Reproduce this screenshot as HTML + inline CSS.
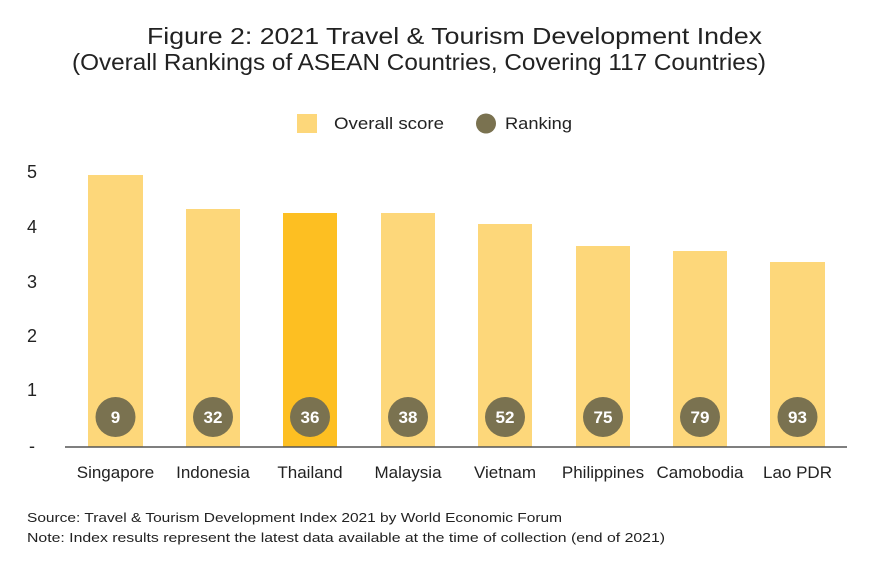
<!DOCTYPE html>
<html><head><meta charset="utf-8"><style>
body{margin:0;background:#fff;width:870px;height:582px;overflow:hidden;font-family:"Liberation Sans","DejaVu Sans",sans-serif}
</style></head><body>
<svg width="870" height="582" xmlns="http://www.w3.org/2000/svg" font-family="Liberation Sans, DejaVu Sans, sans-serif">
<text x="147" y="44" font-size="23" fill="#222" textLength="615" lengthAdjust="spacingAndGlyphs">Figure 2: 2021 Travel &amp; Tourism Development Index</text>
<text x="72" y="70" font-size="23" fill="#222" textLength="694" lengthAdjust="spacingAndGlyphs">(Overall Rankings of ASEAN Countries, Covering 117 Countries)</text>
<rect x="297" y="114" width="20" height="19" fill="#FDD77A"/>
<text x="334" y="129" font-size="17" fill="#222" textLength="110" lengthAdjust="spacingAndGlyphs">Overall score</text>
<circle cx="486" cy="123.5" r="10" fill="#7A7250"/>
<text x="505" y="129" font-size="17" fill="#222" textLength="67" lengthAdjust="spacingAndGlyphs">Ranking</text>
<g font-size="18" fill="#222">
<text x="27" y="178">5</text><text x="27" y="233">4</text><text x="27" y="288">3</text>
<text x="27" y="342">2</text><text x="27" y="396">1</text><text x="29" y="452">-</text>
</g>
<g fill="#FDD77A">
<rect x="88" y="175" width="55" height="272"/>
<rect x="186" y="209" width="54" height="238"/>
<rect x="283" y="213" width="54" height="234" fill="#FDBF22"/>
<rect x="381" y="213" width="54" height="234"/>
<rect x="478" y="224" width="54" height="223"/>
<rect x="576" y="246" width="54" height="201"/>
<rect x="673" y="251" width="54" height="196"/>
<rect x="770" y="262" width="55" height="185"/>
</g>
<line x1="65" y1="447" x2="847" y2="447" stroke="#555" stroke-width="1.5"/>
<g fill="#7A7250">
<circle cx="115.5" cy="417" r="20"/><circle cx="213" cy="417" r="20"/><circle cx="310" cy="417" r="20"/><circle cx="408" cy="417" r="20"/>
<circle cx="505" cy="417" r="20"/><circle cx="603" cy="417" r="20"/><circle cx="700" cy="417" r="20"/><circle cx="797.5" cy="417" r="20"/>
</g>
<g fill="#fff" font-size="17" font-weight="bold" text-anchor="middle">
<text x="115.5" y="423">9</text><text x="213" y="423">32</text><text x="310" y="423">36</text><text x="408" y="423">38</text>
<text x="505" y="423">52</text><text x="603" y="423">75</text><text x="700" y="423">79</text><text x="797.5" y="423">93</text>
</g>
<g fill="#222" font-size="17" text-anchor="middle">
<text x="115.5" y="478">Singapore</text><text x="213" y="478">Indonesia</text><text x="310" y="478">Thailand</text><text x="408" y="478">Malaysia</text>
<text x="505" y="478">Vietnam</text><text x="603" y="478">Philippines</text><text x="700" y="478">Camobodia</text><text x="797.5" y="478">Lao PDR</text>
</g>
<text x="27" y="522" font-size="13" fill="#222" textLength="535" lengthAdjust="spacingAndGlyphs">Source: Travel &amp; Tourism Development Index 2021 by World Economic Forum</text>
<text x="27" y="542" font-size="13" fill="#222" textLength="638" lengthAdjust="spacingAndGlyphs">Note: Index results represent the latest data available at the time of collection (end of 2021)</text>
</svg>
</body></html>
